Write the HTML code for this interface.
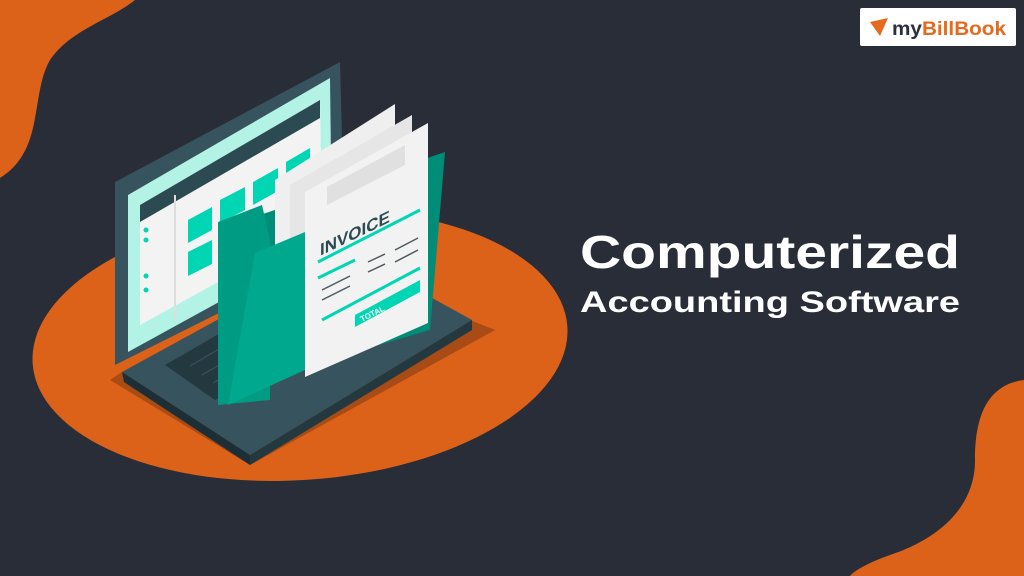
<!DOCTYPE html>
<html><head><meta charset="utf-8"><style>
html,body{margin:0;padding:0;background:#282d38;}
svg{display:block}
</style></head><body>
<svg width="1024" height="576" viewBox="0 0 1024 576" xmlns="http://www.w3.org/2000/svg">
<rect width="1024" height="576" fill="#282d38"/>
<path d="M0 0 L135 0 C110 20 70 30 50 60 C30 95 45 150 0 178 Z" fill="#dc6119"/>
<path d="M1024 380 C985 385 975 420 975 460 C975 510 935 540 890 555 C870 562 855 570 850 576 L1024 576 Z" fill="#dc6119"/>
<ellipse cx="300" cy="345" rx="268" ry="135" transform="rotate(-4 300 345)" fill="#dc6119"/>
<path d="M110 380 L250 465 L495 330 L470 320 L250 450 L122 372 Z" fill="#a84b14"/>
<path d="M122 372 L345 250 L472 320 L250 455 Z" fill="#36535e"/>
<path d="M122 372 L250 455 L250 465 L124 382 Z" fill="#1d2f36"/>
<path d="M250 455 L472 320 L472 330 L250 465 Z" fill="#24393f"/>
<path d="M165 365 L260 310 L310 345 L215 400 Z" fill="#24393f"/>
<g stroke="#36535e" stroke-width="1.2">
<path d="M178 357 L272 302"/><path d="M190 366 L284 311"/><path d="M202 375 L296 320"/><path d="M213 383 L300 333"/>
</g>
<path d="M115 182 L340 62 L345 250 L115 365 Z" fill="#36535e"/>
<path d="M128 195 L330 78 L332 240 L128 352 Z" fill="#b3f3e6"/>
<path d="M140 205 L320 100 L322 225 L140 325 Z" fill="#f3f3f3"/>
<path d="M140 205 L320 100 L320 118 L140 222 Z" fill="#2b4a52"/>
<path d="M175 195 L175 320" stroke="#ddd" stroke-width="2"/>
<g fill="#00d6b4">
<path d="M188 220 L212 207 L212 230 L188 243 Z"/><path d="M220 200 L245 187 L245 210 L220 223 Z"/>
<path d="M253 182 L278 168 L278 191 L253 205 Z"/><path d="M286 162 L310 148 L310 172 L286 185 Z"/>
<path d="M188 252 L212 240 L212 264 L188 276 Z"/>
<circle cx="146" cy="230" r="2.5"/><circle cx="146" cy="240" r="2.5"/><circle cx="146" cy="276" r="2.5"/><circle cx="146" cy="290" r="2.5"/>
</g>
<path d="M260 215 L445 152 L430 330 L260 380 Z" fill="#008d77"/>
<path d="M275 180 L395 104 L395 300 L275 370 Z" fill="#efefef"/>
<path d="M290 185 L412 115 L412 310 L290 375 Z" fill="#e6e6e6"/>
<path d="M305 192 L428 123 L428 323 L305 377 Z" fill="#f2f2f2"/>
<path d="M327 187 L405 145 L405 165 L327 205 Z" fill="#e0e0e0"/>
<text x="320" y="252" font-family="Liberation Sans,sans-serif" font-weight="bold" font-size="17" fill="#2e4a52" transform="skewY(-26) translate(0,160)">INVOICE</text>
<g stroke="#00d6b4" stroke-width="3">
<path d="M318 262 L420 210"/><path d="M318 278 L355 260"/><path d="M322 320 L420 268"/>
</g>
<path d="M355 315 L420 280 L420 292 L355 327 Z" fill="#00d6b4"/>
<text x="362" y="322" font-family="Liberation Sans,sans-serif" font-weight="bold" font-size="8" fill="#fff" transform="rotate(-27 362 322)">TOTAL</text>
<text x="397" y="300" font-family="Liberation Sans,sans-serif" font-weight="bold" font-size="9" fill="#00d6b4" transform="rotate(-27 397 300)">$$$$</text>
<g stroke="#4a5a60" stroke-width="1.5">
<path d="M322 290 L350 276"/><path d="M322 300 L350 286"/><path d="M368 262 L385 254"/><path d="M368 272 L385 264"/><path d="M395 250 L418 238"/><path d="M395 262 L418 250"/>
</g>
<path d="M218 222 L262 205 L270 240 L270 400 L218 405 Z" fill="#009b83"/>
<path d="M255 253 L305 232 L305 370 L228 405 Z" fill="#00a88e"/>
<text x="580" y="268" textLength="380" lengthAdjust="spacingAndGlyphs" font-family="Liberation Sans,sans-serif" font-weight="bold" font-size="46" fill="#ffffff">Computerized</text>
<text x="580" y="312" textLength="380" lengthAdjust="spacingAndGlyphs" font-family="Liberation Sans,sans-serif" font-weight="bold" font-size="30" fill="#ffffff">Accounting Software</text>
<rect x="860" y="8" width="156" height="38" rx="2" fill="#ffffff"/>
<path d="M870 22 L888 18 L880 36 Z" fill="#e56a1c"/>
<text x="892" y="35" textLength="114" lengthAdjust="spacingAndGlyphs" font-family="Liberation Sans,sans-serif" font-weight="bold" font-size="19" fill="#2b3040">my<tspan fill="#e56a1c">BillBook</tspan></text>
</svg>
</body></html>
